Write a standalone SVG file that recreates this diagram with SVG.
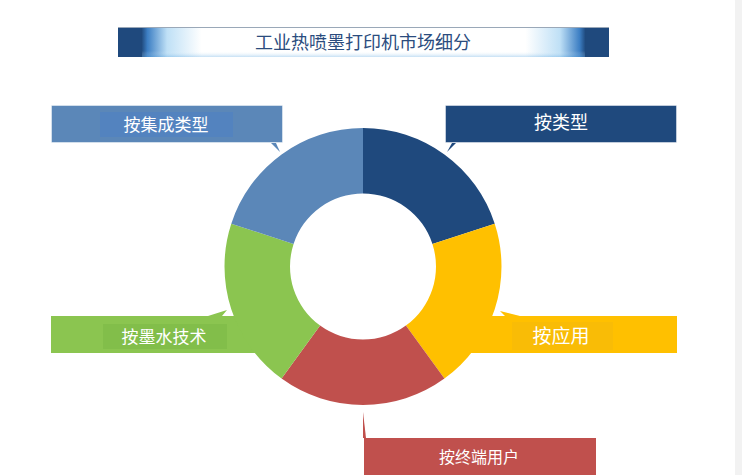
<svg xmlns="http://www.w3.org/2000/svg" width="742" height="475" viewBox="0 0 742 475">
  <defs>
    <linearGradient id="glow" x1="0" y1="0" x2="1" y2="0">
      <stop offset="0.048" stop-color="#1f497d"/>
      <stop offset="0.06" stop-color="#3d7fc4"/>
      <stop offset="0.1" stop-color="#bfe0f6"/>
      <stop offset="0.17" stop-color="#ffffff"/>
      <stop offset="0.83" stop-color="#ffffff"/>
      <stop offset="0.9" stop-color="#bfe0f6"/>
      <stop offset="0.94" stop-color="#3d7fc4"/>
      <stop offset="0.952" stop-color="#1f497d"/>
    </linearGradient>
    <linearGradient id="shade" x1="0" y1="0" x2="0" y2="1">
      <stop offset="0" stop-color="#ffffff" stop-opacity="0"/>
      <stop offset="0.8" stop-color="#ffffff" stop-opacity="0"/>
      <stop offset="1" stop-color="#5aa6e0" stop-opacity="0.35"/>
    </linearGradient>
    <style>
      .lbl { font-family: "Noto Sans CJK SC", "Noto Sans", sans-serif; fill: #ffffff; text-anchor: middle; }
      .title { font-family: "Noto Sans CJK SC", "Noto Sans", sans-serif; fill: #2b4c7e; text-anchor: middle; font-size: 18px; }
      .box { stroke: #ffffff; stroke-opacity: 0.45; stroke-width: 1; }
    </style>
  </defs>
  <rect x="0" y="0" width="742" height="475" fill="#f2f2f2"/>
  <rect x="-20" y="-8" width="755" height="500" rx="10" fill="#ffffff"/>

  <g id="title">
    <rect x="118" y="27" width="491" height="30" fill="url(#glow)"/>
    <rect x="142" y="27" width="443" height="30" fill="url(#shade)"/>
    <line x1="118" y1="27.5" x2="609" y2="27.5" stroke="#9aa8b8" stroke-width="1"/>
    <text class="title" x="363" y="48.5">工业热喷墨打印机市场细分</text>
  </g>

  <g id="node-ink">
    <polygon points="51,316 208,316 227,310 222,316 262,316 262,353 51,353" fill="#8bc550"/>
    <rect x="103" y="324" width="124" height="25" fill="#80bb48" opacity="0.8"/>
    <text class="lbl" x="164" y="342.5" font-size="17">按墨水技术</text>
  </g>
  <g id="node-app">
    <polygon points="465,316 505,316 500,311 520,316 677,316 677,353 465,353" fill="#ffc000"/>
    <rect x="512" y="322" width="101" height="28" fill="#f7ba08" opacity="0.8"/>
    <text class="lbl" x="561" y="342.5" font-size="19">按应用</text>
  </g>

  <g id="donut">
    <path id="seg-type" d="M363,128 A138.5,138.5 0 0 1 494.72,223.70 L432.43,243.94 A73,73 0 0 0 363,193.5 Z" fill="#1f497d"/>
    <path id="seg-app" d="M494.72,223.70 A138.5,138.5 0 0 1 444.41,378.55 L405.91,325.56 A73,73 0 0 0 432.43,243.94 Z" fill="#ffc000"/>
    <path id="seg-user" d="M444.41,378.55 A138.5,138.5 0 0 1 281.59,378.55 L320.09,325.56 A73,73 0 0 0 405.91,325.56 Z" fill="#c0504d"/>
    <path id="seg-ink" d="M281.59,378.55 A138.5,138.5 0 0 1 231.28,223.70 L293.57,243.94 A73,73 0 0 0 320.09,325.56 Z" fill="#8bc550"/>
    <path id="seg-integ" d="M231.28,223.70 A138.5,138.5 0 0 1 363,128 L363,193.5 A73,73 0 0 0 293.57,243.94 Z" fill="#5b87b8"/>
  </g>

  <g id="node-integ">
    <polygon points="271,143 280,152 276,143" fill="#5b87b8"/>
    <rect class="box" x="51.5" y="105.5" width="231" height="37" fill="#5b87b8"/>
    <rect x="100" y="112" width="133" height="25" fill="#5182c0" opacity="0.8"/>
    <text class="lbl" x="166" y="130.5" font-size="17">按集成类型</text>
  </g>
  <g id="node-type">
    <polygon points="452,143 447,152 456,143" fill="#1f497d"/>
    <rect class="box" x="445.5" y="105.5" width="231" height="37" fill="#1f497d"/>
    <text class="lbl" x="561" y="129" font-size="18">按类型</text>
  </g>
  <g id="node-user">
    <polygon points="363,438 363,412 366,438" fill="#c0504d"/>
    <rect x="364" y="438" width="232" height="40" fill="#c0504d"/>
    <text class="lbl" x="479" y="463" font-size="16">按终端用户</text>
  </g>
</svg>
